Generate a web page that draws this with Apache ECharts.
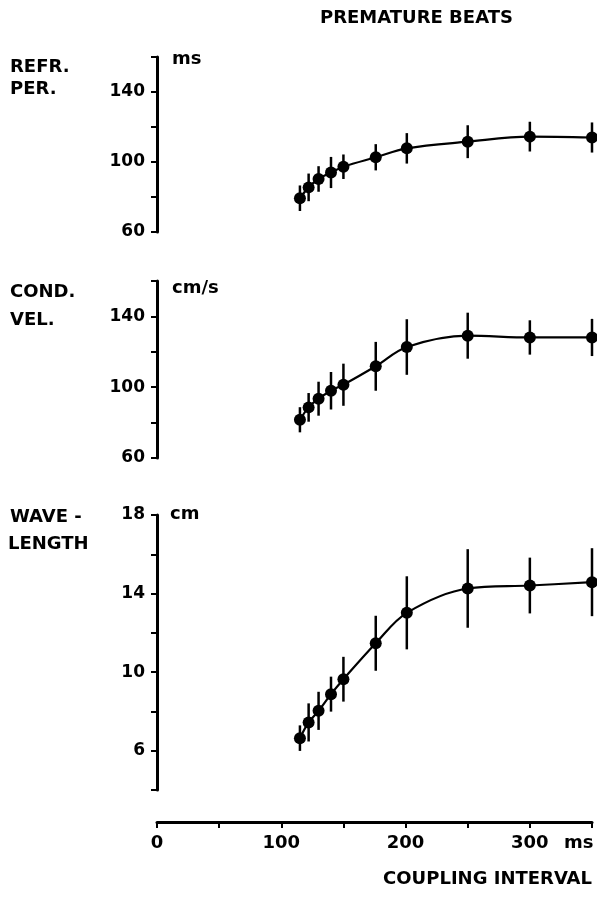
<!DOCTYPE html>
<html>
<head>
<meta charset="utf-8">
<script src="https://cdn.jsdelivr.net/npm/echarts@6/dist/echarts.min.js"></script>
<style>
  html, body { margin: 0; padding: 0; background: #fff; }
  #chart { width: 597px; height: 902px; }
</style>
</head>
<body>
<div id="chart"></div>
<script>
// coupling interval of the premature beat (ms)
var couplingMs = [115, 122, 130, 140, 150, 176, 201, 250, 300, 350];

// refractory period (ms), mean and sd
var refrPer   = [79.3, 85.5, 90.3, 94, 97.3, 102.7, 107.8, 111.6, 114.5, 114];
var refrPerSd = [7.3, 7.9, 7.3, 8.9, 7, 7.5, 8.7, 9.4, 8.5, 8.6];

// conduction velocity (cm/s)
var condVel   = [81.6, 88.6, 93.5, 98, 101.4, 111.8, 122.7, 129.1, 128.1, 128.1];
var condVelSd = [7.1, 8.1, 9.6, 10.6, 11.9, 13.8, 15.7, 13, 9.7, 10.5];

// wavelength (cm)
var waveLength   = [6.64, 7.44, 8.03, 8.88, 9.64, 11.47, 13.02, 14.26, 14.41, 14.58];
var waveLengthSd = [0.65, 0.97, 0.97, 0.89, 1.14, 1.40, 1.86, 2.0, 1.42, 1.73];

var xLabels = [0, 100, 200, 300];

var FONT = 'DejaVu Sans';

function pairs(ys) {
  return couplingMs.map(function(x, i) { return [x, ys[i]]; });
}

function errData(ys, sd) {
  return couplingMs.map(function(x, i) { return [x, ys[i] - sd[i], ys[i] + sd[i]]; });
}

function errSeries(idx, ys, sd) {
  return {
    type: 'custom',
    xAxisIndex: idx,
    yAxisIndex: idx,
    clip: false,
    data: errData(ys, sd),
    renderItem: function(params, api) {
      var lo = api.coord([api.value(0), api.value(1)]);
      var hi = api.coord([api.value(0), api.value(2)]);
      return {
        type: 'line',
        shape: { x1: lo[0], y1: lo[1], x2: hi[0], y2: hi[1] },
        style: { stroke: '#000', lineWidth: 2.5 }
      };
    },
    z: 1
  };
}

function lineSeries(idx, ys) {
  return {
    type: 'line',
    xAxisIndex: idx,
    yAxisIndex: idx,
    data: pairs(ys),
    smooth: 0.35,
    symbol: 'circle',
    symbolSize: 12,
    clip: false,
    itemStyle: { color: '#000' },
    lineStyle: { color: '#000', width: 2.2 },
    z: 2
  };
}

function yAxis(idx, min, max, step, labelStart, labelStep) {
  return {
    type: 'value',
    gridIndex: idx,
    min: min,
    max: max,
    interval: step,
    splitLine: { show: false },
    axisLine: { show: true, lineStyle: { color: '#000', width: 3 } },
    axisTick: { show: true, length: 6, lineStyle: { color: '#000', width: 2 } },
    axisLabel: {
      margin: 12,
      color: '#000',
      fontFamily: FONT,
      fontWeight: 'bold',
      fontSize: 17,
      formatter: function(v) {
        return ((v - labelStart) % labelStep === 0) ? String(v) : '';
      }
    }
  };
}

function xAxis(idx, visible) {
  return {
    type: 'value',
    gridIndex: idx,
    min: 0,
    max: 350,
    interval: 50,
    show: visible,
    offset: visible ? 32 : 0,
    splitLine: { show: false },
    axisLine: { show: true, onZero: false, lineStyle: { color: '#000', width: 3 } },
    axisTick: { show: true, length: 6, lineStyle: { color: '#000', width: 2 } },
    axisLabel: {
      margin: 12,
      color: '#000',
      fontFamily: FONT,
      fontWeight: 'bold',
      fontSize: 18,
      formatter: function(v) {
        return xLabels.indexOf(v) >= 0 ? String(v) : '';
      }
    }
  };
}

function txt(x, y, s, right) {
  return {
    type: 'text',
    left: right ? null : x,
    right: right ? x : null,
    top: y,
    style: {
      text: s,
      fill: '#000',
      font: 'bold 18px "' + FONT + '"'
    }
  };
}

var chart = echarts.init(document.getElementById('chart'));

chart.setOption({
  animation: false,
  backgroundColor: '#fff',
  grid: [
    { left: 157, right: 5, top: 57, height: 175 },
    { left: 157, right: 5, top: 281, height: 177 },
    { left: 157, right: 5, top: 515, height: 275 }
  ],
  xAxis: [xAxis(0, false), xAxis(1, false), xAxis(2, true)],
  yAxis: [
    yAxis(0, 60, 160, 20, 60, 40),
    yAxis(1, 60, 160, 20, 60, 40),
    yAxis(2, 4, 18, 2, 6, 4)
  ],
  series: [
    errSeries(0, refrPer, refrPerSd),
    lineSeries(0, refrPer),
    errSeries(1, condVel, condVelSd),
    lineSeries(1, condVel),
    errSeries(2, waveLength, waveLengthSd),
    lineSeries(2, waveLength)
  ],
  graphic: [
    txt(320, 9, 'PREMATURE BEATS'),
    txt(10, 58, 'REFR.'),
    txt(10, 80, 'PER.'),
    txt(10, 283, 'COND.'),
    txt(10, 311, 'VEL.'),
    txt(10, 508, 'WAVE -'),
    txt(8, 535, 'LENGTH'),
    txt(172, 50, 'ms'),
    txt(172, 279, 'cm/s'),
    txt(170, 505, 'cm'),
    txt(564, 834, 'ms'),
    txt(5, 870, 'COUPLING INTERVAL', true)
  ]
});
</script>
</body>
</html>
